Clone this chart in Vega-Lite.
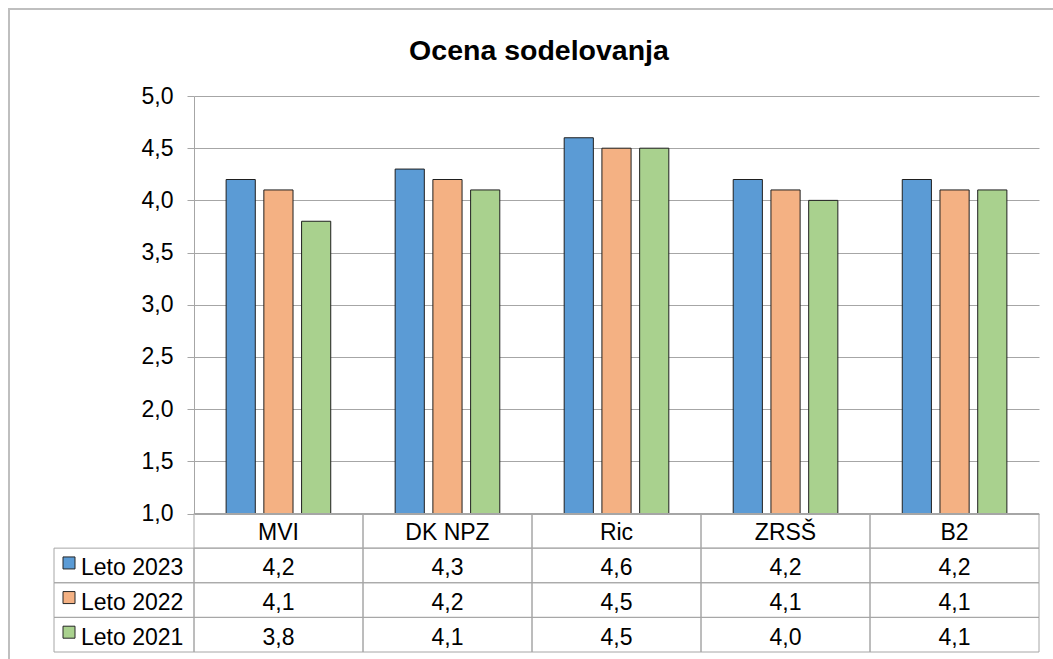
{
  "$schema": "https://vega.github.io/schema/vega-lite/v6.json",
  "width": 1050,
  "height": 660,
  "autosize": "none",
  "padding": {"left": 9, "top": 9, "right": 0, "bottom": 0},
  "background": "white",
  "config": {
    "view": {"stroke": "#BFBFBF", "strokeWidth": 2},
    "font": "Liberation Sans",
    "locale": {"number": {"decimal": ",", "thousands": ".", "grouping": [3], "currency": ["", " €"]}},
    "text": {"font": "Liberation Sans", "fontSize": 23, "color": "#000000"}
  },
  "title": {"text": "Ocena sodelovanja", "font": "Liberation Sans", "fontSize": 28.5, "fontWeight": "bold", "color": "#000000", "anchor": "middle", "frame": "group", "baseline": "middle", "offset": -70, "dx": 5},
  "datasets": {
    "values": [
      {"cat": "MVI", "series": "Leto 2023", "value": 4.2},
      {"cat": "MVI", "series": "Leto 2022", "value": 4.1},
      {"cat": "MVI", "series": "Leto 2021", "value": 3.8},
      {"cat": "DK NPZ", "series": "Leto 2023", "value": 4.3},
      {"cat": "DK NPZ", "series": "Leto 2022", "value": 4.2},
      {"cat": "DK NPZ", "series": "Leto 2021", "value": 4.1},
      {"cat": "Ric", "series": "Leto 2023", "value": 4.6},
      {"cat": "Ric", "series": "Leto 2022", "value": 4.5},
      {"cat": "Ric", "series": "Leto 2021", "value": 4.5},
      {"cat": "ZRSŠ", "series": "Leto 2023", "value": 4.2},
      {"cat": "ZRSŠ", "series": "Leto 2022", "value": 4.1},
      {"cat": "ZRSŠ", "series": "Leto 2021", "value": 4.0},
      {"cat": "B2", "series": "Leto 2023", "value": 4.2},
      {"cat": "B2", "series": "Leto 2022", "value": 4.1},
      {"cat": "B2", "series": "Leto 2021", "value": 4.1}
    ],
    "cats": [{"cat": "MVI"}, {"cat": "DK NPZ"}, {"cat": "Ric"}, {"cat": "ZRSŠ"}, {"cat": "B2"}],
    "series": [{"series": "Leto 2023"}, {"series": "Leto 2022"}, {"series": "Leto 2021"}]
  },
  "layer": [
    {
      "data": {"name": "values"},
      "mark": {"type": "bar", "stroke": "#1F1F1F", "strokeWidth": 1},
      "encoding": {
        "x": {"field": "cat", "type": "nominal", "sort": ["MVI", "DK NPZ", "Ric", "ZRSŠ", "B2"], "axis": null, "scale": {"range": [185, 1030], "paddingInner": 0.381, "paddingOuter": 0.19}},
        "xOffset": {"field": "series", "type": "nominal", "sort": ["Leto 2023", "Leto 2022", "Leto 2021"], "scale": {"paddingInner": 0.227}},
        "y": {"field": "value", "type": "quantitative", "scale": {"domain": [1, 5], "range": [504.5, 87], "nice": false, "zero": false},
          "axis": {"values": [1, 1.5, 2, 2.5, 3, 3.5, 4, 4.5, 5], "format": ".1f", "offset": -185, "title": null, "grid": true, "gridColor": "#A6A6A6", "gridWidth": 1, "domainColor": "#A6A6A6", "domainWidth": 1, "tickColor": "#A6A6A6", "tickSize": 7, "labelFontSize": 23, "labelFont": "Liberation Sans", "labelColor": "#000000", "labelPadding": 14}},
        "y2": {"datum": 1},
        "color": {"field": "series", "type": "nominal", "scale": {"domain": ["Leto 2023", "Leto 2022", "Leto 2021"], "range": ["#5B9BD5", "#F4B183", "#A9D18E"]}, "legend": null}
      }
    },
    {
      "data": {"name": "values"},
      "mark": {"type": "rect", "fill": "transparent", "stroke": "#A6A6A6", "strokeWidth": 1},
      "encoding": {
        "x": {"field": "cat", "type": "nominal", "sort": ["MVI", "DK NPZ", "Ric", "ZRSŠ", "B2"], "axis": null, "scale": {"range": [185, 1030], "paddingInner": 0, "paddingOuter": 0}},
        "y": {"field": "series", "type": "nominal", "axis": null, "scale": {"domain": ["hdr", "Leto 2023", "Leto 2022", "Leto 2021"], "range": [504.5, 643], "paddingInner": 0, "paddingOuter": 0}}
      }
    },
    {
      "data": {"name": "values"},
      "mark": {"type": "text", "baseline": "middle", "dy": 3, "fontSize": 23, "font": "Liberation Sans", "color": "#000000"},
      "encoding": {
        "x": {"field": "cat", "type": "nominal", "sort": ["MVI", "DK NPZ", "Ric", "ZRSŠ", "B2"], "axis": null, "scale": {"range": [185, 1030], "paddingInner": 0, "paddingOuter": 0}},
        "y": {"field": "series", "type": "nominal", "axis": null, "scale": {"domain": ["hdr", "Leto 2023", "Leto 2022", "Leto 2021"], "range": [504.5, 643], "paddingInner": 0, "paddingOuter": 0}},
        "text": {"field": "value", "type": "quantitative", "format": ".1f"}
      }
    },
    {
      "data": {"name": "cats"},
      "mark": {"type": "rect", "fill": "transparent", "stroke": "#A6A6A6", "strokeWidth": 1},
      "encoding": {
        "x": {"field": "cat", "type": "nominal", "sort": ["MVI", "DK NPZ", "Ric", "ZRSŠ", "B2"], "axis": null, "scale": {"range": [185, 1030], "paddingInner": 0, "paddingOuter": 0}},
        "y": {"datum": "hdr", "type": "nominal", "axis": null, "scale": {"domain": ["hdr", "Leto 2023", "Leto 2022", "Leto 2021"], "range": [504.5, 643], "paddingInner": 0, "paddingOuter": 0}}
      }
    },
    {
      "data": {"name": "cats"},
      "mark": {"type": "text", "baseline": "middle", "dy": 2, "fontSize": 23, "font": "Liberation Sans", "color": "#000000"},
      "encoding": {
        "x": {"field": "cat", "type": "nominal", "sort": ["MVI", "DK NPZ", "Ric", "ZRSŠ", "B2"], "axis": null, "scale": {"range": [185, 1030], "paddingInner": 0, "paddingOuter": 0}},
        "y": {"datum": "hdr", "type": "nominal", "axis": null, "scale": {"domain": ["hdr", "Leto 2023", "Leto 2022", "Leto 2021"], "range": [504.5, 643], "paddingInner": 0, "paddingOuter": 0}},
        "text": {"field": "cat", "type": "nominal"}
      }
    },
    {
      "data": {"name": "series"},
      "mark": {"type": "rect", "fill": "transparent", "stroke": "#A6A6A6", "strokeWidth": 1},
      "encoding": {
        "x": {"datum": "L", "type": "nominal", "axis": null, "scale": {"domain": ["L"], "range": [45, 185], "paddingInner": 0, "paddingOuter": 0}},
        "y": {"field": "series", "type": "nominal", "axis": null, "scale": {"domain": ["hdr", "Leto 2023", "Leto 2022", "Leto 2021"], "range": [504.5, 643], "paddingInner": 0, "paddingOuter": 0}}
      }
    },
    {
      "data": {"name": "series"},
      "mark": {"type": "square", "size": 144, "filled": true, "opacity": 1, "stroke": "#262626", "strokeWidth": 1, "xOffset": -55, "yOffset": -2.5},
      "encoding": {
        "x": {"datum": "L", "type": "nominal", "axis": null, "scale": {"domain": ["L"], "range": [45, 185], "paddingInner": 0, "paddingOuter": 0}},
        "y": {"field": "series", "type": "nominal", "axis": null, "scale": {"domain": ["hdr", "Leto 2023", "Leto 2022", "Leto 2021"], "range": [504.5, 643], "paddingInner": 0, "paddingOuter": 0}},
        "color": {"field": "series", "type": "nominal", "scale": {"domain": ["Leto 2023", "Leto 2022", "Leto 2021"], "range": ["#5B9BD5", "#F4B183", "#A9D18E"]}, "legend": null}
      }
    },
    {
      "data": {"name": "series"},
      "mark": {"type": "text", "align": "left", "dx": -43, "baseline": "middle", "dy": 3, "fontSize": 23, "font": "Liberation Sans", "color": "#000000"},
      "encoding": {
        "x": {"datum": "L", "type": "nominal", "axis": null, "scale": {"domain": ["L"], "range": [45, 185], "paddingInner": 0, "paddingOuter": 0}},
        "y": {"field": "series", "type": "nominal", "axis": null, "scale": {"domain": ["hdr", "Leto 2023", "Leto 2022", "Leto 2021"], "range": [504.5, 643], "paddingInner": 0, "paddingOuter": 0}},
        "text": {"field": "series", "type": "nominal"}
      }
    }
  ],
  "resolve": {"scale": {"x": "independent", "y": "independent"}}
}
